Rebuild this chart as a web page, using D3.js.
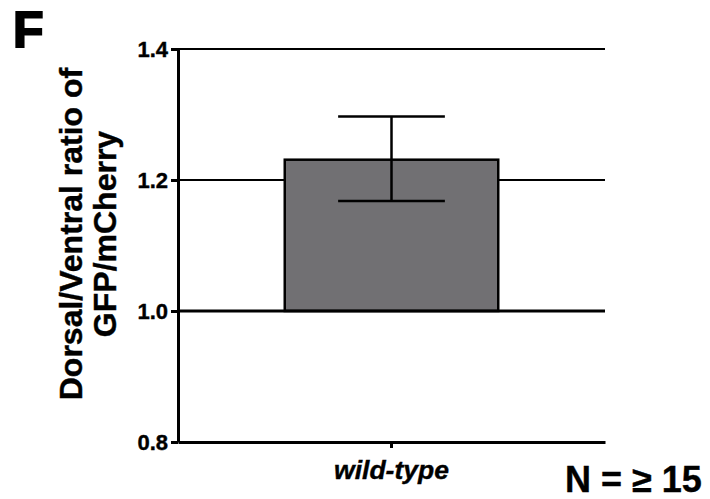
<!DOCTYPE html>
<html>
<head>
<meta charset="utf-8">
<script src="https://cdn.jsdelivr.net/npm/d3@7"></script>
<style>
  body { margin: 0; background: #fff; }
  text { font-family: "Liberation Sans", Arial, sans-serif; font-weight: bold; fill: #000; }
</style>
</head>
<body>
<svg id="chart" width="710" height="499"></svg>
<script>
const categories = ["wild-type"];
const means = [1.231];
const errLow = [1.168];
const errHigh = [1.297];
const yTicks = [0.8, 1.0, 1.2, 1.4];
const gridTicks = [1.2, 1.4];

const MARGIN = { top: 49, right: 105, bottom: 57, left: 178 };
const WIDTH = 710;
const HEIGHT = 499;

const svg = d3.select("#chart");

const x = d3.scaleBand()
  .domain(categories)
  .range([MARGIN.left, WIDTH - MARGIN.right])
  .paddingInner(0.5)
  .paddingOuter(0.25);

const y = d3.scaleLinear()
  .domain([0.8, 1.4])
  .range([HEIGHT - MARGIN.bottom, MARGIN.top]);

// gridlines at 1.2 and 1.4
svg.append("g")
  .selectAll("line")
  .data(gridTicks)
  .join("line")
  .attr("x1", MARGIN.left)
  .attr("x2", WIDTH - MARGIN.right)
  .attr("y1", d => y(d))
  .attr("y2", d => y(d))
  .attr("stroke", "#000")
  .attr("stroke-width", 2);

// bars
const data = categories.map((c, i) => ({ cat: c, mean: means[i], lo: errLow[i], hi: errHigh[i] }));

svg.append("g")
  .selectAll("rect")
  .data(data)
  .join("rect")
  .attr("x", d => x(d.cat))
  .attr("width", x.bandwidth())
  .attr("y", d => y(d.mean))
  .attr("height", d => y(1.0) - y(d.mean))
  .attr("fill", "#717073")
  .attr("stroke", "#000")
  .attr("stroke-width", 2.5);

// error bars
const eb = svg.append("g").attr("stroke", "#000").attr("stroke-width", 2.5);
data.forEach(d => {
  const cx = x(d.cat) + x.bandwidth() / 2;
  const cap = x.bandwidth() / 4;
  eb.append("line").attr("x1", cx).attr("x2", cx).attr("y1", y(d.hi)).attr("y2", y(d.lo));
  eb.append("line").attr("x1", cx - cap).attr("x2", cx + cap).attr("y1", y(d.hi)).attr("y2", y(d.hi));
  eb.append("line").attr("x1", cx - cap).attr("x2", cx + cap).attr("y1", y(d.lo)).attr("y2", y(d.lo));
});

// baseline at 1.0
svg.append("line")
  .attr("x1", MARGIN.left)
  .attr("x2", WIDTH - MARGIN.right)
  .attr("y1", y(1.0))
  .attr("y2", y(1.0))
  .attr("stroke", "#000")
  .attr("stroke-width", 3);

// y axis
const yAxis = svg.append("g")
  .attr("transform", `translate(${MARGIN.left},0)`)
  .call(d3.axisLeft(y).tickValues(yTicks).tickFormat(d3.format(".1f")).tickSize(7).tickSizeOuter(0));
yAxis.select(".domain").attr("stroke-width", 3);
yAxis.selectAll(".tick line").attr("stroke-width", 3);
yAxis.selectAll(".tick text")
  .attr("x", -10)
  .attr("dy", "0.36em")
  .style("font-size", "22px")
  .style("font-family", "Liberation Sans, Arial, sans-serif")
  .style("font-weight", "bold")
  .style("stroke", "#000")
  .style("stroke-width", 0.4);

// x axis
const xAxis = svg.append("g")
  .attr("transform", `translate(0,${y(0.8)})`)
  .call(d3.axisBottom(x).tickSize(6).tickSizeOuter(0));
xAxis.select(".domain").attr("stroke-width", 3);
xAxis.selectAll(".tick line").attr("stroke-width", 3);
xAxis.selectAll(".tick text")
  .attr("y", 37)
  .attr("dy", 0)
  .style("font-size", "26.5px")
  .style("font-style", "italic")
  .style("font-family", "Liberation Sans, Arial, sans-serif")
  .style("font-weight", "bold")
  .style("stroke", "#000")
  .style("stroke-width", 0.4);

// y axis title
const title = svg.append("text")
  .attr("transform", "translate(82,234) rotate(-90)")
  .attr("text-anchor", "middle")
  .style("font-size", "32px")
  .style("stroke", "#000")
  .style("stroke-width", 0.4);
title.append("tspan").attr("x", 0).attr("y", 0).text("Dorsal/Ventral ratio of");
title.append("tspan").attr("x", 0).attr("y", 34).text("GFP/mCherry");

// panel letter
svg.append("text")
  .attr("x", 13)
  .attr("y", 47)
  .style("font-size", "50px")
  .style("stroke", "#000")
  .style("stroke-width", 2)
  .text("F");

// N label
svg.append("text")
  .attr("x", 565)
  .attr("y", 492)
  .style("font-size", "36px")
  .style("stroke", "#000")
  .style("stroke-width", 0.4)
  .text("N = ≥ 15");
</script>
</body>
</html>
